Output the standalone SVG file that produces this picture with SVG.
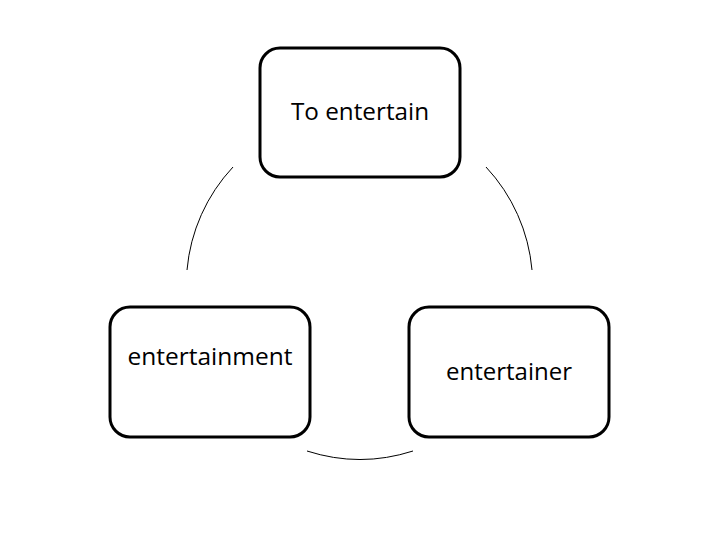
<svg xmlns="http://www.w3.org/2000/svg" width="720" height="540" viewBox="0 0 720 540">
<style>
.box{fill:#fff;stroke:#000;stroke-width:3}
.lbl{font-family:"Open Sans","Liberation Sans",sans-serif;font-size:24px;fill:#000;text-anchor:middle}
.arc{fill:none;stroke:#000;stroke-width:1}
</style>
<rect width="720" height="540" fill="#fff"/>
<g id="connectors">
<path class="arc" d="M 233 167 A 173 173 0 0 0 187 270"/>
<path class="arc" d="M 486 167 A 173 173 0 0 1 532 270"/>
<path class="arc" d="M 413 451 A 173 173 0 0 1 307 451"/>
</g>
<g id="node-top">
<rect class="box" x="260" y="48" width="200" height="129" rx="20" ry="20"/>
<text class="lbl" x="360" y="120" textLength="138" lengthAdjust="spacingAndGlyphs">To entertain</text>
</g>
<g id="node-left">
<rect class="box" x="110" y="307" width="200" height="130" rx="20" ry="20"/>
<text class="lbl" x="210" y="365" textLength="165" lengthAdjust="spacingAndGlyphs">entertainment</text>
</g>
<g id="node-right">
<rect class="box" x="409" y="307" width="200" height="130" rx="20" ry="20"/>
<text class="lbl" x="509" y="380" textLength="126" lengthAdjust="spacingAndGlyphs">entertainer</text>
</g>
</svg>
